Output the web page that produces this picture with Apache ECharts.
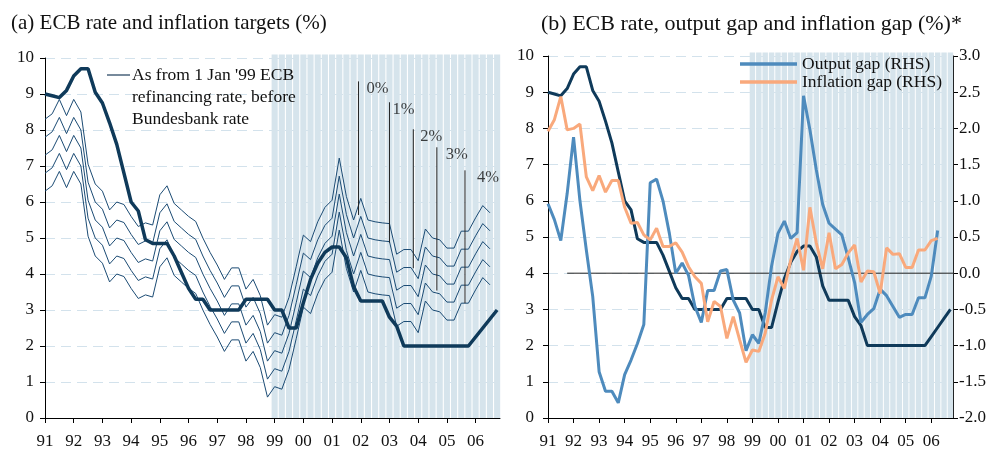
<!DOCTYPE html>
<html>
<head>
<meta charset="utf-8">
<script src="https://cdn.jsdelivr.net/npm/echarts@6/dist/echarts.min.js"></script>
<style>
  html, body { margin: 0; padding: 0; background: #fff; }
  #chart { width: 997px; height: 451px; }
</style>
</head>
<body>
<div id="chart"></div>
<script>
// quarterly data, 1991Q1 onwards
const firstYear = 1991;
const yearTicks = [1991, 1992, 1993, 1994, 1995, 1996, 1997, 1998, 1999, 2000, 2001, 2002, 2003, 2004, 2005, 2006];
const shadedFrom = 1999; // ECB era

// ECB refinancing rate (before 1999 Bundesbank rate), %
const ecbRate = [
  9.0, 8.95, 8.9, 9.1, 9.5, 9.7, 9.7, 9.05, 8.75, 8.2,
  7.6, 6.8, 6.0, 5.75, 4.95, 4.85, 4.85, 4.85, 4.5, 4.05,
  3.6, 3.3, 3.3, 3.0, 3.0, 3.0, 3.0, 3.0, 3.3, 3.3,
  3.3, 3.3, 3.0, 3.0, 2.5, 2.5, 3.2, 3.85, 4.3, 4.6,
  4.75, 4.75, 4.45, 3.65, 3.25, 3.25, 3.25, 3.25, 2.8, 2.55,
  2.0, 2.0, 2.0, 2.0, 2.0, 2.0, 2.0, 2.0, 2.0, 2.0,
  2.25, 2.5, 2.75, 3.0
];

// rule-based rates for inflation targets of 0% .. 4%
const target0 = [
  8.3, 8.45, 8.85, 8.4, 8.85, 8.5, 7.05, 6.5, 6.3, 5.78,
  6.0, 5.93, 5.6, 5.32, 5.42, 5.36, 6.2, 6.45, 5.96, 5.78,
  5.6, 5.46, 5.0, 4.6, 4.25, 3.85, 4.17, 4.17, 3.58, 3.85,
  3.4, 2.58, 2.87, 2.8, 3.35, 4.2, 5.08, 4.9, 5.45, 5.85,
  6.05, 7.22, 6.15, 5.5, 6.1, 5.5, 5.45, 5.42, 5.4, 4.55,
  4.68, 4.68, 4.37, 5.25, 5.0, 4.95, 4.72, 4.72, 5.19, 5.19,
  5.56, 5.9, 5.7
];
const target1 = [
  7.8, 7.95, 8.35, 7.9, 8.35, 8.0, 6.55, 6.0, 5.8, 5.28,
  5.5, 5.43, 5.1, 4.82, 4.92, 4.86, 5.7, 5.95, 5.46, 5.28,
  5.1, 4.96, 4.5, 4.1, 3.75, 3.35, 3.67, 3.67, 3.08, 3.35,
  2.9, 2.08, 2.37, 2.3, 2.85, 3.7, 4.58, 4.4, 4.95, 5.35,
  5.55, 6.72, 5.65, 5.0, 5.6, 5.0, 4.95, 4.92, 4.9, 4.05,
  4.18, 4.18, 3.87, 4.75, 4.5, 4.45, 4.22, 4.22, 4.69, 4.69,
  5.06, 5.4, 5.2
];
const target2 = [
  7.3, 7.45, 7.85, 7.4, 7.85, 7.5, 6.05, 5.5, 5.3, 4.78,
  5.0, 4.93, 4.6, 4.32, 4.42, 4.36, 5.2, 5.45, 4.96, 4.78,
  4.6, 4.46, 4.0, 3.6, 3.25, 2.85, 3.17, 3.17, 2.58, 2.85,
  2.4, 1.58, 1.87, 1.8, 2.35, 3.2, 4.08, 3.9, 4.45, 4.85,
  5.05, 6.22, 5.15, 4.5, 5.1, 4.5, 4.45, 4.42, 4.4, 3.55,
  3.68, 3.68, 3.37, 4.25, 4.0, 3.95, 3.72, 3.72, 4.19, 4.19,
  4.56, 4.9, 4.7
];
const target3 = [
  6.8, 6.95, 7.35, 6.9, 7.35, 7.0, 5.55, 5.0, 4.8, 4.28,
  4.5, 4.43, 4.1, 3.82, 3.92, 3.86, 4.7, 4.95, 4.46, 4.28,
  4.1, 3.96, 3.5, 3.1, 2.75, 2.35, 2.67, 2.67, 2.08, 2.35,
  1.9, 1.08, 1.37, 1.3, 1.85, 2.7, 3.58, 3.4, 3.95, 4.35,
  4.55, 5.72, 4.65, 4.0, 4.6, 4.0, 3.95, 3.92, 3.9, 3.05,
  3.18, 3.18, 2.87, 3.75, 3.5, 3.45, 3.22, 3.22, 3.69, 3.69,
  4.06, 4.4, 4.2
];
const target4 = [
  6.3, 6.45, 6.85, 6.4, 6.85, 6.5, 5.05, 4.5, 4.3, 3.78,
  4.0, 3.93, 3.6, 3.32, 3.42, 3.36, 4.2, 4.45, 3.96, 3.78,
  3.6, 3.46, 3.0, 2.6, 2.25, 1.85, 2.17, 2.17, 1.58, 1.85,
  1.4, 0.58, 0.87, 0.8, 1.35, 2.2, 3.08, 2.9, 3.45, 3.85,
  4.05, 5.22, 4.15, 3.5, 4.1, 3.5, 3.45, 3.42, 3.4, 2.55,
  2.68, 2.68, 2.37, 3.25, 3.0, 2.95, 2.72, 2.72, 3.19, 3.19,
  3.56, 3.9, 3.7
];

// right-hand scale, %
const outputGap = [
  0.96, 0.74, 0.45, 1.1, 1.88, 1.0, 0.32, -0.32, -1.36, -1.63,
  -1.63, -1.79, -1.4, -1.2, -0.97, -0.71, 1.25, 1.3, 1.0, 0.55,
  0.0, 0.14, -0.03, -0.46, -0.68, -0.24, -0.24, 0.03, 0.05, -0.37,
  -0.55, -1.07, -0.85, -0.97, -0.55, 0.1, 0.55, 0.72, 0.48, 0.56,
  2.45, 1.98, 1.43, 0.95, 0.69, 0.61, 0.53, 0.21, -0.13, -0.68,
  -0.57, -0.49, -0.22, -0.31, -0.46, -0.61, -0.57, -0.57, -0.34, -0.34,
  -0.04, 0.59
];
const inflationGap = [
  1.96, 2.12, 2.44, 1.98, 2.0, 2.06, 1.33, 1.14, 1.35, 1.12,
  1.28, 1.28, 0.91, 0.69, 0.7, 0.53, 0.46, 0.62, 0.37, 0.37,
  0.42, 0.29, 0.09, -0.05, -0.14, -0.67, -0.39, -0.46, -0.9, -0.6,
  -0.92, -1.23, -1.06, -1.08, -0.83, -0.37, -0.05, -0.21, 0.18, 0.48,
  0.04, 0.91, 0.42, 0.06, 0.56, 0.06, 0.12, 0.28, 0.39, -0.12,
  0.03, 0.02, -0.28, 0.35, 0.26, 0.27, 0.08, 0.08, 0.32, 0.32,
  0.45, 0.48
];

// pointers for the target lines in panel (a)
const annotLabels = ['0%', '1%', '2%', '3%', '4%'];
const annotYears = [2001.92, 2003.0, 2003.83, 2004.65, 2005.63];
const annotTops = [9.35, 8.77, 8.02, 7.52, 6.88];
const annotBottoms = [5.64, 4.87, 4.16, 3.54, 3.19];
const annotLabelDx = [8, 3, 7, 9, 12];

const SERIF = 'Liberation Serif';
const xMax = 2006.85;
const qx = i => firstYear + i / 4;
const pairs = arr => arr.map((v, i) => [qx(i), v]);
const shading = ecbRate.map((v, i) => qx(i)).filter(x => x >= shadedFrom).map(x => [x, 10.1]);

const xAxisBase = (gridIndex) => ({
  type: 'value', gridIndex, min: firstYear, max: xMax,
  splitLine: { show: false },
  axisLine: { lineStyle: { color: '#000', width: 1 } },
  axisTick: { customValues: yearTicks, length: 5, lineStyle: { color: '#000' } },
  axisLabel: {
    customValues: yearTicks, formatter: v => String(v).slice(2),
    fontSize: 17, fontFamily: SERIF, color: '#111', margin: 15
  }
});
const yAxisRate = (gridIndex, margin) => ({
  type: 'value', gridIndex, min: 0, max: 10, interval: 1,
  axisLine: { show: true, lineStyle: { color: '#000', width: 1 } },
  axisTick: { show: true, length: 5, lineStyle: { color: '#000' } },
  axisLabel: { fontSize: 17, fontFamily: SERIF, color: '#111', margin },
  splitLine: { show: true, lineStyle: { color: '#d3e2ec', type: [10, 6], width: 1 } }
});

const thin = (name, data) => ({
  name, type: 'line', xAxisIndex: 0, yAxisIndex: 0, data: pairs(data),
  symbol: 'none', z: 3, lineStyle: { color: '#1b4b74', width: 1 }
});
const stripes = (xAxisIndex, yAxisIndex) => ({
  type: 'bar', xAxisIndex, yAxisIndex, data: shading, barWidth: '85%',
  clip: false, silent: true, z: 1, itemStyle: { color: '#d6e4ec' }
});

const series = [
  stripes(0, 0),
  thin('0%', target0), thin('1%', target1), thin('2%', target2), thin('3%', target3), thin('4%', target4),
  {
    name: 'ECB rate', type: 'line', xAxisIndex: 0, yAxisIndex: 0, data: pairs(ecbRate),
    symbol: 'none', z: 4, lineStyle: { color: '#0f3a5a', width: 3.5 }
  }
];
annotLabels.forEach((lab, k) => {
  series.push({
    type: 'line', xAxisIndex: 0, yAxisIndex: 0, symbol: 'none', silent: true, z: 5,
    data: [[annotYears[k], annotBottoms[k]], [annotYears[k], annotTops[k]]],
    lineStyle: { color: '#222', width: 1 }
  });
  series.push({
    type: 'scatter', xAxisIndex: 0, yAxisIndex: 0, symbolSize: 0, silent: true, z: 5,
    data: [[annotYears[k], annotTops[k]]],
    label: {
      show: true, position: 'right', distance: 0, offset: [annotLabelDx[k], 7],
      formatter: lab, fontSize: 16.5, fontFamily: SERIF, color: '#111'
    }
  });
});
series.push(
  stripes(1, 1),
  {
    name: 'ECB rate (b)', type: 'line', xAxisIndex: 1, yAxisIndex: 1, data: pairs(ecbRate),
    symbol: 'none', z: 3, lineStyle: { color: '#0f3a5a', width: 3 }
  },
  {
    type: 'line', xAxisIndex: 1, yAxisIndex: 2, data: [[1991.75, 0], [xMax, 0]],
    symbol: 'none', silent: true, z: 3, lineStyle: { color: '#222', width: 1 }
  },
  {
    name: 'Output gap (RHS)', type: 'line', xAxisIndex: 1, yAxisIndex: 2, data: pairs(outputGap),
    symbol: 'none', z: 4, lineStyle: { color: '#4e8bbd', width: 3 }, itemStyle: { color: '#4e8bbd' }
  },
  {
    name: 'Inflation gap (RHS)', type: 'line', xAxisIndex: 1, yAxisIndex: 2, data: pairs(inflationGap),
    symbol: 'none', z: 4, lineStyle: { color: '#f9a97c', width: 3 }, itemStyle: { color: '#f9a97c' }
  }
);

const chart = echarts.init(document.getElementById('chart'), null, { renderer: 'canvas' });
chart.setOption({
  animation: false,
  backgroundColor: '#fff',
  textStyle: { fontFamily: SERIF, color: '#111' },
  title: [
    { text: '(a) ECB rate and inflation targets (%)', left: 6, top: 8,
      textStyle: { fontFamily: SERIF, fontSize: 21, fontWeight: 'normal', color: '#111' } },
    { text: '(b) ECB rate, output gap and inflation gap (%)*', left: 536, top: 8,
      textStyle: { fontFamily: SERIF, fontSize: 22, fontWeight: 'normal', color: '#111' } }
  ],
  grid: [
    { left: 45, top: 58, width: 455, height: 360 },
    { left: 548, top: 56, width: 405, height: 362 }
  ],
  legend: {
    data: ['Output gap (RHS)', 'Inflation gap (RHS)'],
    orient: 'vertical', left: 740, top: 55, padding: 0, itemWidth: 57, itemHeight: 3.5, itemGap: 0,
    icon: 'rect', selectedMode: false, z: 10,
    textStyle: { fontSize: 17.5, fontFamily: SERIF, color: '#111', lineHeight: 17.5 }
  },
  xAxis: [xAxisBase(0), xAxisBase(1)],
  yAxis: [
    yAxisRate(0, 11),
    yAxisRate(1, 14),
    {
      type: 'value', gridIndex: 1, position: 'right', min: -2, max: 3, interval: 0.5,
      axisLine: { show: true, lineStyle: { color: '#000', width: 1 } },
      axisTick: { show: true, length: 5, lineStyle: { color: '#000' } },
      axisLabel: { fontSize: 17, fontFamily: SERIF, color: '#111', margin: 6, formatter: v => v.toFixed(1) },
      splitLine: { show: false }
    }
  ],
  graphic: [
    { type: 'line', z: 100, shape: { x1: 107, y1: 75, x2: 130, y2: 75 }, style: { stroke: '#1b3c5a', lineWidth: 1.2 } },
    { type: 'text', z: 100, x: 132, y: 64, style: {
        text: "As from 1 Jan '99 ECB\nrefinancing rate, before\nBundesbank rate",
        font: '17.5px "Liberation Serif"', lineHeight: 22.3, fill: '#111'
    } }
  ],
  series
});
</script>
</body>
</html>
